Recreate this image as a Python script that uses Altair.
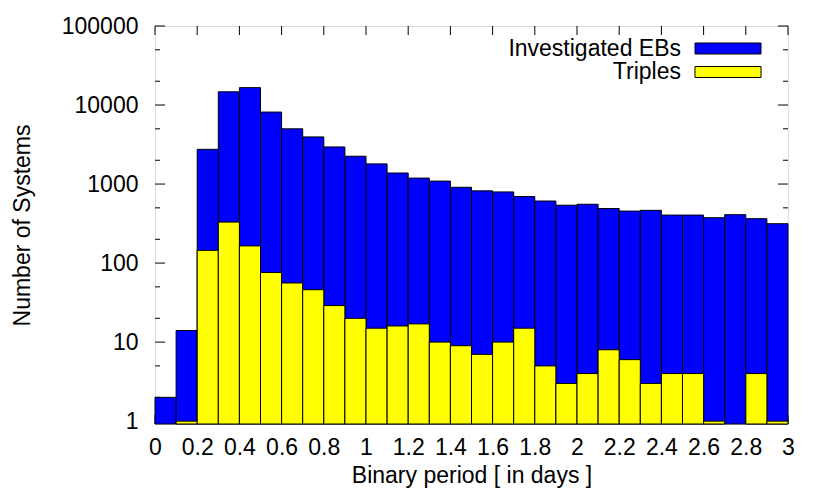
import altair as alt
import pandas as pd

# ---- data ----
bin_width = 0.1
bin_start = [round(i * bin_width, 1) for i in range(30)]
investigated_ebs = [2, 14, 2750, 14700, 16600, 8150, 5000, 3950, 2950, 2250,
                    1800, 1380, 1190, 1090, 910, 820, 795, 695, 610, 540,
                    555, 490, 455, 465, 405, 405, 375, 410, 365, 315]
triples = [0, 1, 145, 330, 165, 76, 56, 46, 29, 20,
           15, 16, 17, 10, 9, 7, 10, 15, 5, 3,
           4, 8, 6, 3, 4, 4, 1, 0, 4, 1]
x_ticks = [0, 0.2, 0.4, 0.6, 0.8, 1, 1.2, 1.4, 1.6, 1.8, 2, 2.2, 2.4, 2.6, 2.8, 3]
y_major = [1, 10, 100, 1000, 10000, 100000]
y_minor = [2, 5, 20, 50, 200, 500, 2000, 5000, 20000, 50000]
legend_labels = ["Investigated EBs", "Triples"]
colors = ["#0000ff", "#ffff00"]

W, H = 633, 398
FONT = "Liberation Sans"
FS = 23

df = pd.DataFrame({
    "x": bin_start,
    "x2": [round(s + bin_width, 1) for s in bin_start],
    "eb": investigated_ebs,
    "tr": triples,
})
df_eb = df[df["eb"] > 0].assign(y=lambda d: d["eb"])
df_tr = df[df["tr"] > 0].assign(y=lambda d: d["tr"])

x_scale = alt.Scale(domain=[0, 3], nice=False, zero=False)
y_scale = alt.Scale(type="log", domain=[0.92, 100000], nice=False)

x_axis = alt.Axis(values=x_ticks, format="~g", ticks=False, domain=False, grid=False,
                  labelFont=FONT, labelFontSize=FS, labelColor="black", labelPadding=12,
                  labelFlush=False, labelOverlap=False,
                  title="Binary period [ in days ]", titleFont=FONT, titleFontSize=FS,
                  titleFontWeight="normal", titleColor="black", titlePadding=5)
y_axis = alt.Axis(values=y_major, format="d", ticks=False, domain=False, grid=False,
                  labelFont=FONT, labelFontSize=FS, labelColor="black", labelPadding=17,
                  labelOverlap=False,
                  title="Number of Systems", titleFont=FONT, titleFontSize=FS,
                  titleFontWeight="normal", titleColor="black", titlePadding=27)

X = alt.X("x:Q", scale=x_scale, axis=x_axis)
Y = alt.Y("y:Q", scale=y_scale, axis=y_axis)

# ---- inward ticks (gnuplot style) ----
ymaj = pd.DataFrame({"y": y_major})
ymin = pd.DataFrame({"y": y_minor})
xt = pd.DataFrame({"x": x_ticks})

def yticks(data, length):
    left = alt.Chart(data).mark_rule(color="black", strokeWidth=1).encode(
        y=Y, x=alt.value(0), x2=alt.value(length))
    right = alt.Chart(data).mark_rule(color="black", strokeWidth=1).encode(
        y=Y, x=alt.value(W), x2=alt.value(W - length))
    return left + right

xtick_top = alt.Chart(xt).mark_rule(color="black", strokeWidth=1).encode(
    x=X, y=alt.value(0), y2=alt.value(9))
xtick_bot = alt.Chart(xt).mark_rule(color="black", strokeWidth=1).encode(
    x=X, y=alt.value(H), y2=alt.value(H - 9))

bars_eb = alt.Chart(df_eb).mark_rect(color=colors[0], stroke="black", strokeWidth=1).encode(
    x=X, x2="x2:Q", y=Y, y2=alt.value(H))
bars_tr = alt.Chart(df_tr).mark_rect(color=colors[1], stroke="black", strokeWidth=1).encode(
    x=X, x2="x2:Q", y=Y, y2=alt.value(H))

# ---- legend (gnuplot style: text then swatch) ----
leg = pd.DataFrame({"label": legend_labels, "color": colors})
legend_layers = []
for i, (lab, col) in enumerate(zip(legend_labels, colors)):
    d = leg[leg["label"] == lab]
    cy = 22.5 + i * 23.5
    legend_layers.append(
        alt.Chart(d).mark_rect(color=col, stroke="black", strokeWidth=1).encode(
            x=alt.value(540), x2=alt.value(606), y=alt.value(cy - 5.5), y2=alt.value(cy + 5.5)))
    legend_layers.append(
        alt.Chart(d).mark_text(font=FONT, fontSize=FS, align="right", baseline="middle",
                               color="black").encode(
            text="label:N", x=alt.value(526), y=alt.value(cy)))

chart = alt.layer(
    yticks(ymaj, 10), yticks(ymin, 5), xtick_top, xtick_bot,
    bars_eb, bars_tr, *legend_layers
).properties(
    width=W, height=H,
    autosize=alt.AutoSizeParams(type="none"),
    padding={"left": 147, "top": 18, "right": 34, "bottom": 66},
).configure_view(stroke="black", strokeWidth=1.2).configure(background="white")

chart.save("out.html", embed_options={"renderer": "svg", "actions": False})
